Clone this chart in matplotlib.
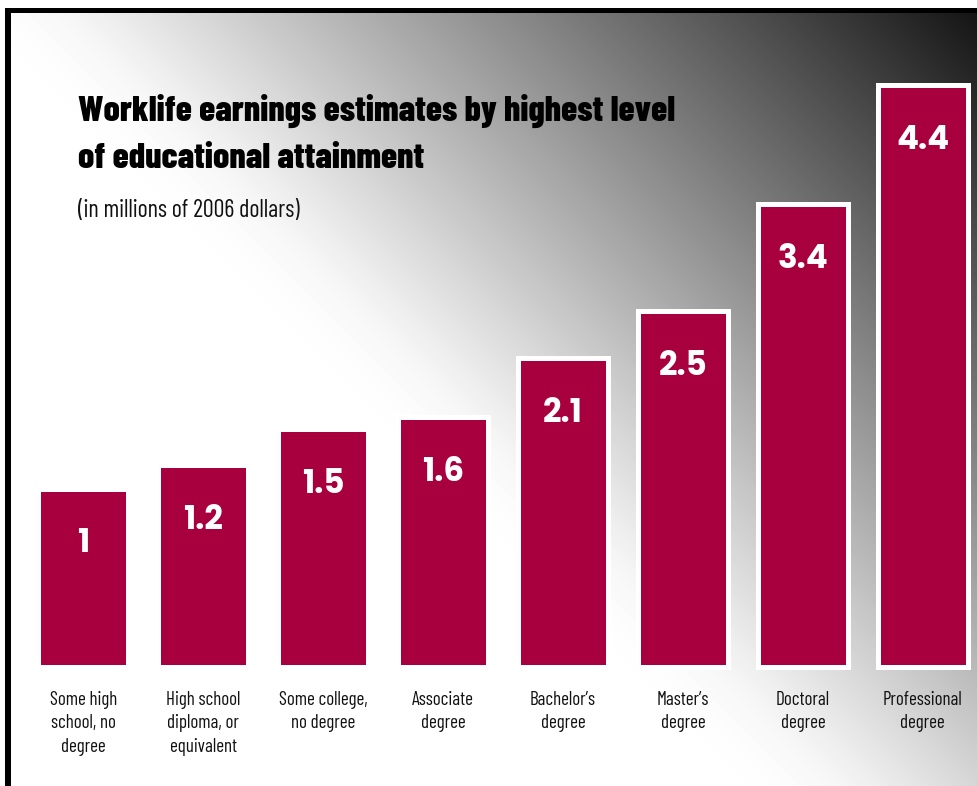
import numpy as np
import matplotlib
matplotlib.use("Agg")
import matplotlib.pyplot as plt

categories = [
    "Some high\nschool, no\ndegree",
    "High school\ndiploma, or\nequivalent",
    "Some college,\nno degree",
    "Associate\ndegree",
    "Bachelor\u2019s\ndegree",
    "Master\u2019s\ndegree",
    "Doctoral\ndegree",
    "Professional\ndegree",
]
earnings = [1.0, 1.2, 1.5, 1.6, 2.1, 2.5, 3.4, 4.4]  # millions of 2006 dollars

title_lines = ["Worklife earnings estimates by highest level", "of educational attainment"]
subtitle = "(in millions of 2006 dollars)"

W, H = 978, 786
BAR_COLOR = "#A8003F"
BASE = -0.5

# condensed faces first, plain fallbacks after
COND = ["Barlow Condensed", "Roboto Condensed", "Fira Sans Condensed", "Archivo Narrow",
        "Oswald", "Liberation Sans Narrow", "DejaVu Sans"]
BOLD_NUM = ["Poppins", "Montserrat", "League Spartan", "Liberation Sans", "DejaVu Sans"]

fig = plt.figure(figsize=(W / 100, H / 100), dpi=100)

# background: diagonal gradient, white bottom-left -> black top-right
yy, xx = np.mgrid[0:H, 0:W]
g = 262 - 0.25 * xx + 0.25 * yy
g = 255 - 8 * np.log1p(np.exp((255 - g) / 8))
g = np.clip(g, 0, 255) / 255.0
g[:8, :] = 1.0
g[:, :5] = 1.0
g[8:13, 5:] = 0.0
g[8:, 5:11] = 0.0
bg = fig.add_axes([0, 0, 1, 1])
bg.imshow(g, cmap="gray", vmin=0, vmax=1, aspect="auto", interpolation="bilinear")
bg.axis("off")


def px(x, y):
    return x / W, 1 - y / H


# bars
ax_l, ax_r = 23.5, W
ax_b, ax_t = 666.5, 13
ax = fig.add_axes([ax_l / W, 1 - ax_b / H, (ax_r - ax_l) / W, (ax_b - ax_t) / H])
ax.set_facecolor("none")
x = np.arange(len(earnings))
vals = np.array(earnings)
ax.bar(x, vals - BASE, bottom=BASE, width=0.75, color=BAR_COLOR,
       edgecolor="white", linewidth=3.6, clip_on=False)
ax.set_xlim(-0.5, -0.5 + (ax_r - ax_l) / 119.9)
ax.set_ylim(BASE, BASE + (ax_b - ax_t) / 118.6)
ax.axis("off")

val_texts, cat_texts = [], []
for i, v in enumerate(earnings):
    val_texts.append(ax.annotate(f"{v:g}", (i, v), xytext=(0, -46), textcoords="offset points",
                                 ha="center", va="baseline", color="white", fontsize=24,
                                 fontweight="bold", family=BOLD_NUM))
    cat_texts.append(ax.annotate(categories[i], (i, BASE), xytext=(0, -17.5),
                                 textcoords="offset points", ha="center", va="top",
                                 color="#111111", fontsize=13, family=COND,
                                 linespacing=1.4, annotation_clip=False))

t1 = fig.text(*px(78, 121), title_lines[0], ha="left", va="baseline", fontsize=26,
              fontweight="heavy", family=COND, color="black")
t2 = fig.text(*px(78, 168), title_lines[1], ha="left", va="baseline", fontsize=26,
              fontweight="heavy", family=COND, color="black")
sub = fig.text(*px(78, 217), subtitle, ha="left", va="baseline", fontsize=15,
               family=COND, color="#111111")

# scale font sizes so text widths match the original layout
r = fig.canvas.get_renderer()


def fit(t, target):
    w = t.get_window_extent(r).width
    return t.get_fontsize() * target / w


fs = fit(t1, 597)
t1.set_fontsize(fs)
t2.set_fontsize(fs)
sub.set_fontsize(fit(sub, 222))
fs = fit(val_texts[-1], 53)
for t in val_texts:
    t.set_fontsize(fs)
fs = fit(cat_texts[-1], 80)
for t in cat_texts:
    t.set_fontsize(fs)

fig.savefig("out.png", dpi=100)
